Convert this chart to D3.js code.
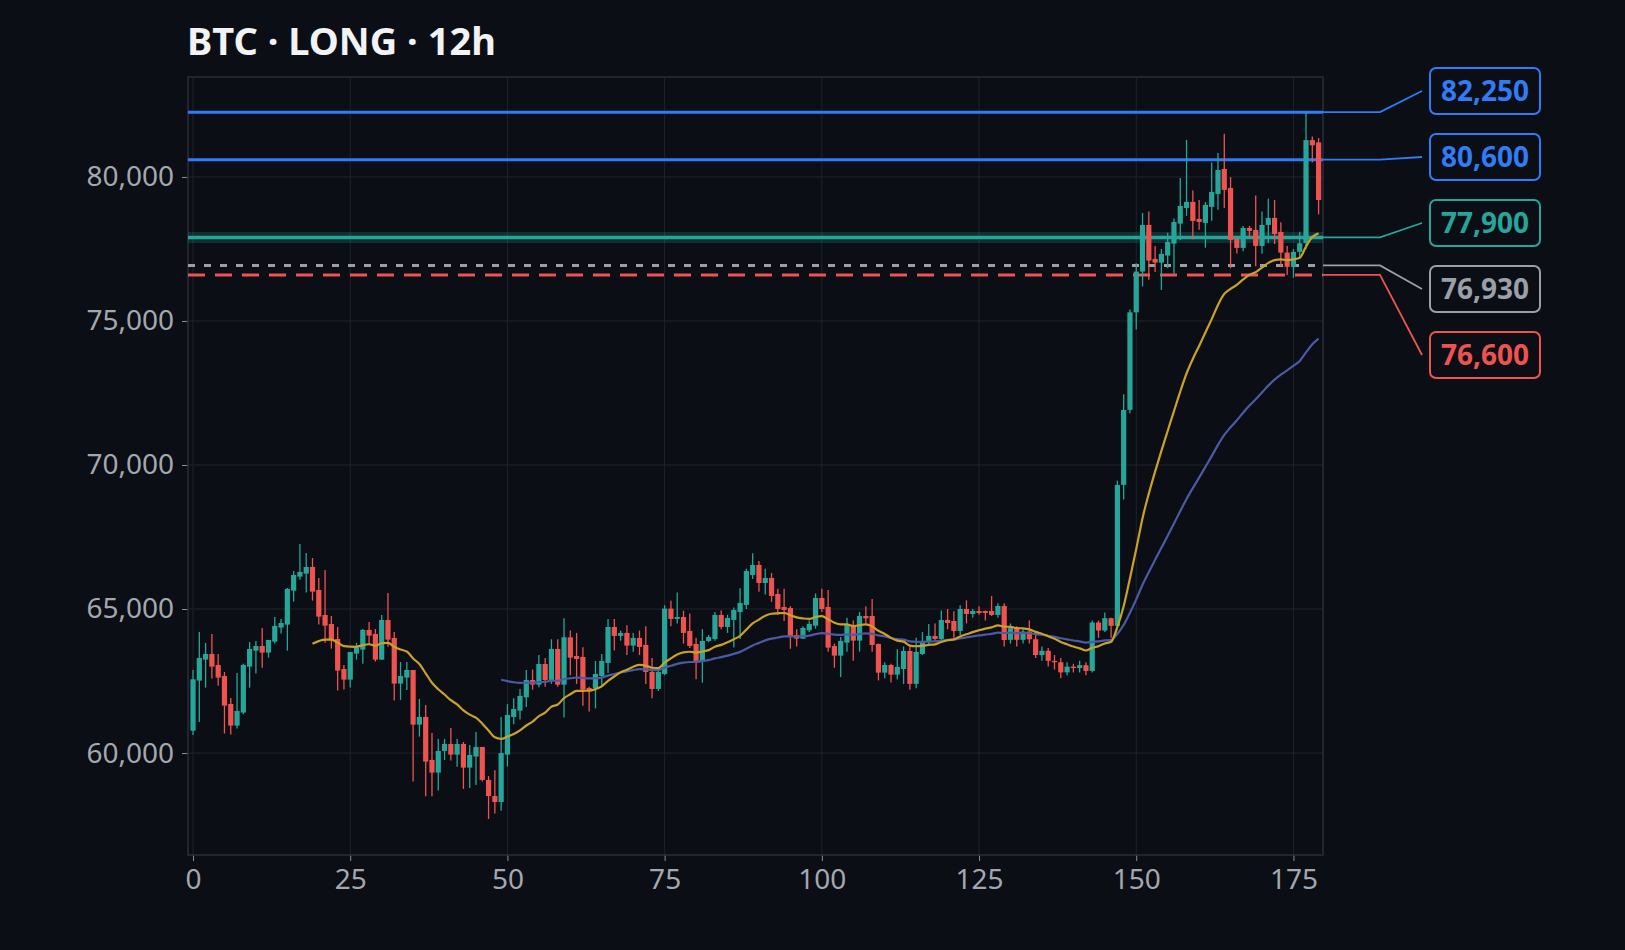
<!DOCTYPE html>
<html>
<head>
<meta charset="utf-8">
<script src="https://cdn.jsdelivr.net/npm/d3@7"></script>
<style>
  body { margin: 0; background: #0b0e14; }
  .chart { width: 1625px; height: 950px; }
  text { font-family: "Noto Sans", "Open Sans", sans-serif; }
</style>
</head>
<body>
<div class="chart"></div>
<script>
// candle data (index 0..179)
const opens = [60778,62514,63243,63440,63058,62676,61705,60952,61404,63000,63555,63717,63486,63868,64354,64458,65638,66124,66228,66460,
65661,64793,64481,63960,62919,62549,63451,63590,64273,64134,63243,64620,63995,62410,62618,62884,60986,61253,59760,59320,
60072,60315,59945,60315,59494,59876,60211,59066,58508,58300,59945,61253,61472,61935,62537,62375,63092,62537,63613,62375,
64018,63370,63335,62260,62260,62676,63128,64377,64065,64170,63730,63995,63753,62815,62225,62746,65014,64655,64724,64238,
63787,63197,63891,63960,64794,64377,64620,64898,65141,66182,66529,65904,66078,65522,65071,65037,64098,63971,64261,64423,
65383,65071,63717,63382,63833,64446,63903,64758,64758,63786,62791,63057,62722,62918,63543,62400,63440,63856,64065,63960,
64620,64585,64238,65001,64827,64932,64932,64932,64793,65106,63930,64335,63930,64220,63950,63400,63550,63200,63150,62800,
63000,62950,63050,62850,64531,64253,64681,64415,69309,71913,75300,76715,78334,77154,77027,77270,77686,78380,78924,79133,
78543,78404,78960,79410,80278,79618,77848,77536,78230,78160,77605,78334,78578,78092,77374,76880,77400,77700,81280,81200];
const highs = [62884,64203,63822,64134,63440,62815,61913,62780,63100,63856,63891,64342,63926,64724,64654,65731,66321,67258,66945,66772,
66078,66355,64759,64377,63058,63509,63822,64308,64550,64308,64793,65557,64203,63162,63162,62884,61877,61669,60697,60489,
60489,60871,60489,60385,60280,60732,60211,59200,59400,61250,61700,61900,62225,62884,62900,63400,63300,63950,63950,64683,
64250,64170,63670,62300,63200,63440,64655,64655,64250,64440,64170,64250,64400,63300,62850,65130,65290,65570,64940,64840,
64000,64300,64100,64900,64950,64800,65050,65720,66400,66940,66670,66400,66250,65700,65700,65100,64300,64400,64600,65540,
65700,65660,63800,64030,64700,64600,64900,65100,65350,63800,63150,63100,63600,63700,63700,64000,64200,64480,64500,64950,
65000,64920,65130,65300,65000,65100,64950,65450,65200,65200,64500,64400,64300,64600,64100,63700,63650,63400,63300,63150,
63100,63200,63150,64600,64600,64880,64700,69460,72460,75400,77000,78750,78800,77600,77500,78060,78560,79960,81285,79530,
79200,79130,80500,80830,81500,80000,77850,78300,78300,79360,78800,79240,79200,78430,77600,77500,78100,82250,81400,81350];
const lows = [60628,61080,62271,62584,62340,60675,60640,60848,61350,62271,62757,62965,63312,63799,64146,63555,65256,66020,65569,65291,
64458,63833,63625,62167,62202,62271,63243,63104,63787,63174,63243,63694,61820,61843,62190,59008,60570,58500,58500,58700,
59760,59737,59528,58753,58788,58892,59008,57710,57900,58000,59528,61000,61160,61600,62200,62280,62300,62400,62300,61230,
62700,62400,61640,61440,61550,62340,62780,63560,63900,63400,63520,63400,62400,61900,62150,62700,64400,64500,63800,63650,
62560,62440,63850,63900,64300,64170,63660,63960,65000,66040,65600,65500,65250,64794,64580,63620,63700,63960,64200,64320,
64900,63520,62960,62640,63520,63200,63520,64500,63520,62520,62600,62450,62550,62400,62200,62250,63400,63750,63900,63900,
64300,64000,64100,64500,64700,64800,64600,64760,64700,63700,63800,63700,63800,63800,63300,63200,63000,62900,62600,62700,
62800,62800,62700,62800,64000,64200,64000,64300,68800,71800,74700,76200,76430,76700,76078,76840,76650,77800,78650,77840,
78170,77540,78480,78860,78920,76830,77340,77420,77900,76900,77330,77700,77670,76900,76600,76500,77200,77500,80500,78700];
const closes = [62560,63301,63440,63000,62618,61646,60952,61461,63058,63613,63717,63486,63926,64412,64516,65696,66182,66286,66460,65603,
64736,64423,63937,62861,62549,63509,63648,64273,64076,63243,64620,63937,62410,62676,62884,60986,61253,59702,59320,60072,
60315,59945,60315,59494,59934,60211,59066,58508,58300,60000,61322,61530,61982,62537,62375,63092,62537,63613,62375,64018,
63312,63266,62201,62190,62745,63197,64377,64065,64170,63730,63995,63683,62815,62225,62815,65014,64655,64724,64170,63718,
63197,63891,64030,64794,64377,64690,64967,65210,66321,66529,65904,66078,65453,64998,64967,64065,63971,64342,64481,65383,
65001,63659,63382,63891,64446,63903,64758,64677,63752,62791,63057,62722,62988,63543,62400,63510,63856,64065,63960,64620,
64515,64238,65001,64827,64932,64862,64862,64793,65106,63925,64335,63930,64220,63950,63400,63550,63200,63150,62800,63000,
62950,63050,62850,64531,64253,64681,64415,69309,71913,75300,76715,78334,77096,77027,77328,77744,78438,78994,79133,78473,
78438,79029,79480,80243,79550,77813,77536,78230,78126,77605,78334,78578,78022,77374,76880,77400,77700,81280,81100,79200];

// price levels shown on the right
const levelValues = [82250, 80600, 77900, 76930, 76600];
const levelLabels = ["82,250", "80,600", "77,900", "76,930", "76,600"];
const levelColors = ["#2f7cf6", "#2f7cf6", "#26a69a", "#9aa0a8", "#ef5350"];
const levelDash = [null, null, null, "7,9", "17,10"];
const labelY = [91, 157, 223, 289, 355];

const yTicks = [60000, 65000, 70000, 75000, 80000];
const xTicks = [0, 25, 50, 75, 100, 125, 150, 175];
const title = "BTC · LONG · 12h";

const chart = {};
chart.margin = { top: 77, left: 188, right: 1323, bottom: 855 };

chart.svg = d3.select(".chart").append("svg").attr("width", 1625).attr("height", 950);
chart.svg.append("rect").attr("width", 1625).attr("height", 950).attr("fill", "#0b0e14");

chart.x = d3.scaleLinear().domain([-0.8, 179.7]).range([chart.margin.left, chart.margin.right]);
chart.y = d3.scaleLinear().domain([56460, 83470]).range([chart.margin.bottom, chart.margin.top]);

const m = chart.margin;

// grid
chart.svg.append("g").selectAll("line").data(yTicks).enter().append("line")
  .attr("x1", m.left).attr("x2", m.right)
  .attr("y1", d => chart.y(d)).attr("y2", d => chart.y(d))
  .attr("stroke", "#1f232c").attr("stroke-width", 1);
chart.svg.append("g").selectAll("line").data(xTicks).enter().append("line")
  .attr("y1", m.top).attr("y2", m.bottom)
  .attr("x1", d => chart.x(d)).attr("x2", d => chart.x(d))
  .attr("stroke", "#1f232c").attr("stroke-width", 1);

// axes
const yAxis = chart.svg.append("g").attr("transform", `translate(${m.left},0)`)
  .call(d3.axisLeft(chart.y).tickValues(yTicks).tickFormat(d3.format(",")).tickSize(6).tickPadding(8));
const xAxis = chart.svg.append("g").attr("transform", `translate(0,${m.bottom})`)
  .call(d3.axisBottom(chart.x).tickValues(xTicks).tickSize(6).tickPadding(8));
[yAxis, xAxis].forEach(a => {
  a.select(".domain").remove();
  a.selectAll(".tick line").attr("stroke", "#8a8f98");
  a.selectAll(".tick text").attr("fill", "#a3a8b0").style("font-size", "28px")
    .style("font-family", "'Noto Sans', sans-serif");
});

// border
chart.svg.append("rect").attr("x", m.left).attr("y", m.top)
  .attr("width", m.right - m.left).attr("height", m.bottom - m.top)
  .attr("fill", "none").attr("stroke", "#2a2e38").attr("stroke-width", 1.5);

// level lines
const lvl = chart.svg.append("g");
const ext = 1380, lab = 1430;
levelValues.forEach((v, i) => {
  const y = chart.y(v);
  if (i === 2) {
    lvl.append("line").attr("x1", m.left).attr("x2", m.right).attr("y1", y).attr("y2", y)
      .attr("stroke", levelColors[i]).attr("stroke-opacity", 0.22).attr("stroke-width", 11);
  }
  lvl.append("line").attr("x1", m.left).attr("x2", m.right).attr("y1", y).attr("y2", y)
    .attr("stroke", levelColors[i]).attr("stroke-width", i === 2 ? 3.5 : 3)
    .attr("stroke-dasharray", levelDash[i]);
  lvl.append("path")
    .attr("d", `M${m.right},${y}L${ext},${y}L${lab - 8},${labelY[i]}`)
    .attr("fill", "none").attr("stroke", levelColors[i]).attr("stroke-width", 1.8);
  lvl.append("rect").attr("x", lab).attr("y", labelY[i] - 23).attr("width", 110).attr("height", 46)
    .attr("rx", 6).attr("fill", "#0b0e14").attr("stroke", levelColors[i]).attr("stroke-width", 2);
  lvl.append("text").attr("x", lab + 55).attr("y", labelY[i] + 10).attr("text-anchor", "middle")
    .attr("fill", levelColors[i]).style("font-size", "28px").style("font-weight", "bold")
    .text(levelLabels[i]);
});

// candles
const idx = d3.range(closes.length);
const up = i => closes[i] >= opens[i];
const col = i => up(i) ? "#26a69a" : "#ef5350";
const cg = chart.svg.append("g");
cg.selectAll("line").data(idx).enter().append("line")
  .attr("x1", i => chart.x(i)).attr("x2", i => chart.x(i))
  .attr("y1", i => chart.y(highs[i])).attr("y2", i => chart.y(lows[i]))
  .attr("stroke", col).attr("stroke-width", 1.3);
const bw = 5.2;
cg.selectAll("rect").data(idx).enter().append("rect")
  .attr("x", i => chart.x(i) - bw / 2).attr("width", bw)
  .attr("y", i => chart.y(Math.max(opens[i], closes[i])))
  .attr("height", i => Math.max(1.2, Math.abs(chart.y(opens[i]) - chart.y(closes[i]))))
  .attr("fill", col);

// exponential moving averages of the closes, seeded with a simple average
function ema(n) {
  const k = 2 / (n + 1);
  let v = d3.mean(closes.slice(0, n));
  const out = [[n - 1, v]];
  for (let i = n; i < closes.length; i++) {
    v = closes[i] * k + v * (1 - k);
    out.push([i, v]);
  }
  return out;
}
const line = d3.line().x(d => chart.x(d[0])).y(d => chart.y(d[1])).curve(d3.curveMonotoneX);
chart.svg.append("path").datum(ema(50)).attr("d", line)
  .attr("fill", "none").attr("stroke", "#4c5aa6").attr("stroke-width", 2.2);
chart.svg.append("path").datum(ema(20)).attr("d", line)
  .attr("fill", "none").attr("stroke", "#c9a227").attr("stroke-width", 2.2);

// title
chart.svg.append("text").attr("x", 187).attr("y", 55).attr("fill", "#f2f3f5")
  .style("font-size", "38px").style("font-weight", "bold").text(title);
</script>
</body>
</html>
